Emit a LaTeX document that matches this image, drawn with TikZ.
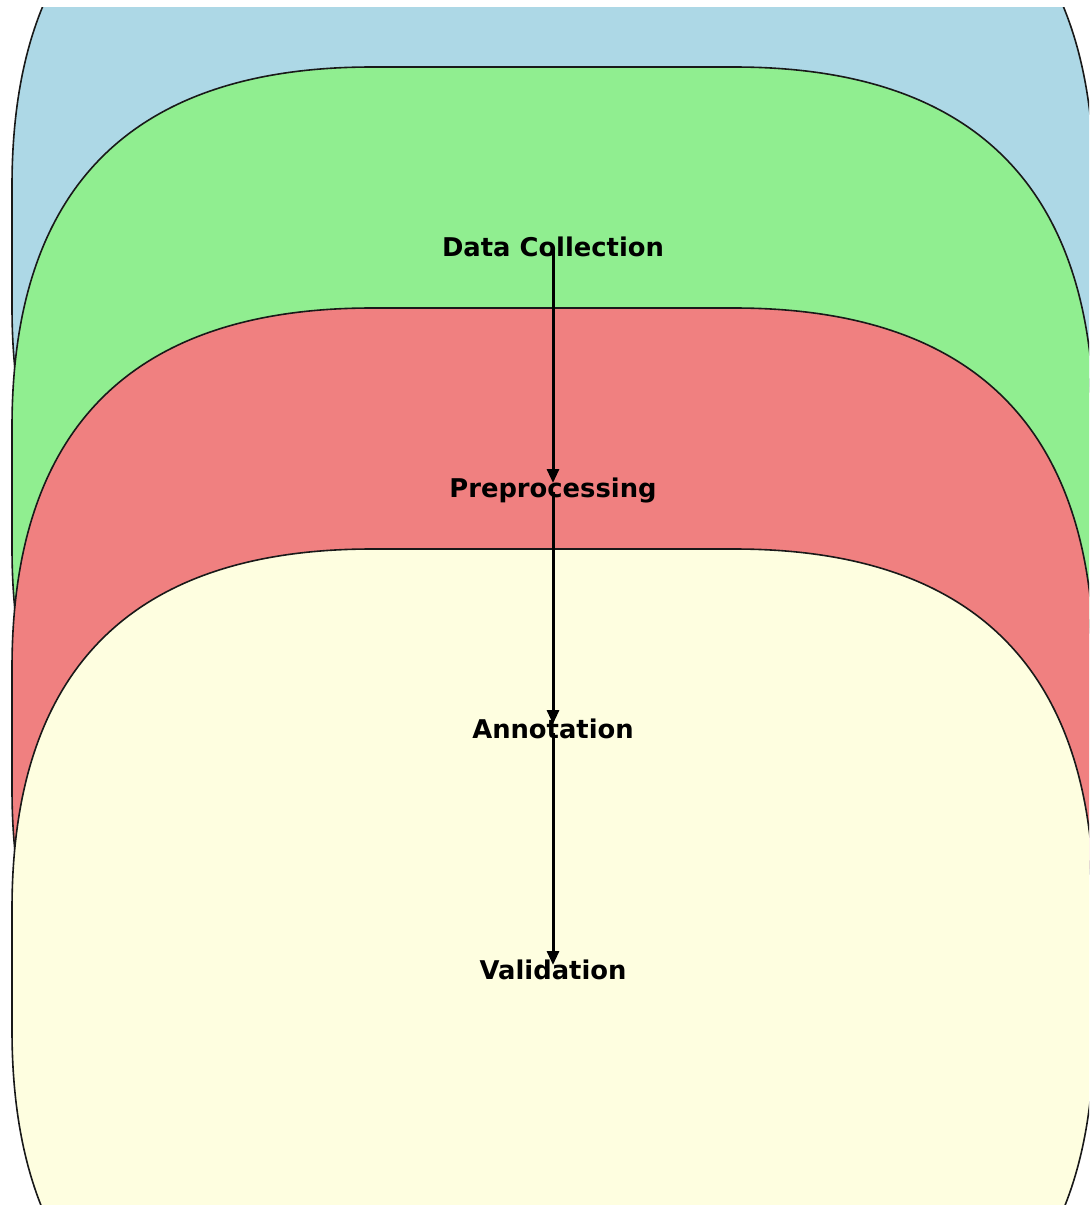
\documentclass[tikz,border=0pt]{standalone}
\usepackage{fontspec}
\setmainfont{DejaVu Sans}
\usetikzlibrary{arrows.meta,calc}
\definecolor{boxblue}{HTML}{ADD8E6}
\definecolor{boxgreen}{HTML}{90EE90}
\definecolor{boxred}{HTML}{F08080}
\definecolor{boxyellow}{HTML}{FEFEE0}
\begin{document}
\begin{tikzpicture}[x=0.5pt,y=-0.5pt,
  stagebox/.style={draw=black!90, line width=0.8pt},
  lbl/.style={font=\fontsize{12.9}{15}\selectfont\bfseries, inner sep=0pt, anchor=base},
  flow/.style={line width=1.5pt, -{Triangle[length=7pt,width=6pt]}}]
\useasboundingbox (0,0) rectangle (1089,1205);
\begin{scope}
\clip (0,7) rectangle (1089,1205);
\foreach \t/\c in {-174/boxblue,67/boxgreen,308/boxred,549/boxyellow}{
  \draw[stagebox, fill=\c] (12,\t+360) .. controls (12,\t+120) and (132,\t) .. (372,\t)
    -- (734,\t) .. controls (974,\t) and (1094,\t+120) .. (1094,\t+360)
    -- (1094,\t+481) .. controls (1094,\t+721) and (974,\t+841) .. (734,\t+841)
    -- (372,\t+841) .. controls (132,\t+841) and (12,\t+721) .. (12,\t+481) -- cycle;
}
\end{scope}
\node[lbl] (dc) at (553,256) {Data Collection};
\node[lbl] (pp) at (553,497) {Preprocessing};
\node[lbl] (an) at (553,738) {Annotation};
\node[lbl] (va) at (553,979) {Validation};
\draw[flow] ($(dc.base)+(0,-5)$) -- ($(pp.base)+(0,-14)$);
\draw[flow] ($(pp.base)+(0,-5)$) -- ($(an.base)+(0,-14)$);
\draw[flow] ($(an.base)+(0,-5)$) -- ($(va.base)+(0,-14)$);
\end{tikzpicture}
\end{document}
